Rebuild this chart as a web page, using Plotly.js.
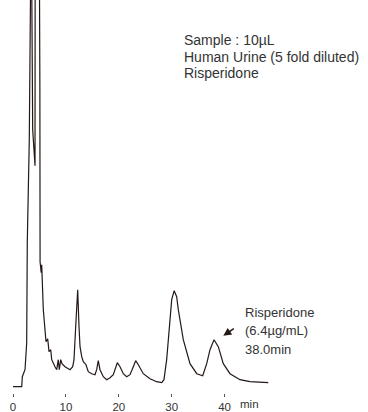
<!DOCTYPE html>
<html>
<head>
<meta charset="utf-8">
<script src="https://cdn.plot.ly/plotly-3.0.1.min.js"></script>
<style>html,body{margin:0;padding:0;background:#fff;}#chart{width:368px;height:412px;}</style>
</head>
<body>
<div id="chart"></div>
<script>
// Retention time (min)
var timeMin = [0, 1.65, 1.76, 2.27, 2.59, 2.70, 3.08, 3.30, 3.45, 3.72, 4.16, 4.20, 4.95, 5.08, 5.12,
  5.33, 5.43, 5.73, 6.05, 6.24, 6.56, 6.81, 7.13, 7.32, 7.94, 8.26, 8.56, 8.75, 9.02, 9.26, 9.83,
  10.45, 10.78, 11.29, 11.53, 11.85, 12.23, 12.48, 12.67, 12.99, 13.29, 13.80, 14.23, 14.88, 15.50,
  15.82, 16.12, 16.45, 17.07, 17.71, 18.34, 18.96, 19.28, 19.72, 20.23, 20.85, 21.49, 22.12, 22.74,
  23.19, 23.69, 24.63, 25.90, 27.16, 28.11, 28.54, 29.05, 29.55, 30.00, 30.47, 30.94, 31.25, 32.19,
  33.46, 34.73, 35.86, 36.62, 37.24, 38.0, 38.81, 39.75, 41.02, 42.91, 44.80, 48.26];
// Detector signal (arbitrary units)
var signal = [0, 0, 10, 17, 44, 144, 247, 480, 480, 257, 221, 480, 480, 300, 125,
  114, 122, 77, 50, 45, 48, 35, 37, 27, 20, 17, 27, 17, 27, 23, 20,
  18, 17, 20, 27, 60, 97, 60, 40, 30, 25, 22, 15, 13, 12,
  17, 26, 17, 10, 7, 9, 12, 17, 24, 20, 13, 10, 12, 20,
  26, 22, 13, 8, 5, 4, 7, 27, 60, 87, 96, 90, 77, 47,
  23, 13, 11, 23, 37, 47, 40, 23, 13, 7, 5, 4];
var tickValues = [0, 10, 20, 30, 40];
var tickLabels = ['0', '10', '20', '30', '40'];
var sampleLines = ['Sample : 10\u00b5L', 'Human Urine (5 fold diluted)', 'Risperidone'];
var peakLines = ['Risperidone', '(6.4\u00b5g/mL)', '38.0min'];
var peakTime = 38.0;
var peakSignal = 47;

var FONT = 'Liberation Sans, Arial, Helvetica, sans-serif';
var INK = '#231815';

var annotations = [];
var sampleY = [0.8985, 0.8546, 0.8140];
sampleLines.forEach(function (t, i) {
  annotations.push({xref: 'paper', yref: 'paper', x: 182 / 368, y: sampleY[i], xanchor: 'left', yanchor: 'middle',
    text: t, showarrow: false, font: {family: FONT, size: 14, color: '#333'}});
});
var peakY = [0.2048, 0.1581, 0.1117];
peakLines.forEach(function (t, i) {
  annotations.push({xref: 'paper', yref: 'paper', x: 243 / 368, y: peakY[i], xanchor: 'left', yanchor: 'middle',
    text: t, showarrow: false, font: {family: FONT, size: 13, color: '#333'}});
});
// arrow pointing at the risperidone peak
annotations.push({xref: 'x', yref: 'y', x: peakTime + 1.75, y: peakSignal + 4, ax: 12, ay: -8, text: '',
  showarrow: true, arrowhead: 2, arrowsize: 1, arrowwidth: 1.6, arrowcolor: INK});
// axis unit label
annotations.push({xref: 'x', yref: 'paper', x: 44.8, y: -0.008, xanchor: 'center', yanchor: 'top',
  text: 'min', showarrow: false, font: {family: FONT, size: 11.5, color: '#333'}});

Plotly.newPlot('chart', [{
  x: timeMin, y: signal, type: 'scatter', mode: 'lines',
  line: {color: INK, width: 1.2}, hoverinfo: 'skip'
}], {
  width: 368, height: 412,
  margin: {l: 0, r: 0, t: 0, b: 19, pad: 0},
  paper_bgcolor: '#fff', plot_bgcolor: '#fff',
  showlegend: false,
  xaxis: {range: [-13 / 5.29, 355 / 5.29], tickmode: 'array', tickvals: tickValues, ticktext: tickLabels,
    ticks: 'outside', ticklen: 3, tickwidth: 1, tickcolor: '#555', showline: false, showgrid: false,
    zeroline: false, tickfont: {family: FONT, size: 11.5, color: '#333'}, ticklabelstandoff: 0, fixedrange: true},
  yaxis: {range: [-6.3, 386.7], visible: false, fixedrange: true},
  annotations: annotations
}, {displayModeBar: false, staticPlot: true});
</script>
</body>
</html>
